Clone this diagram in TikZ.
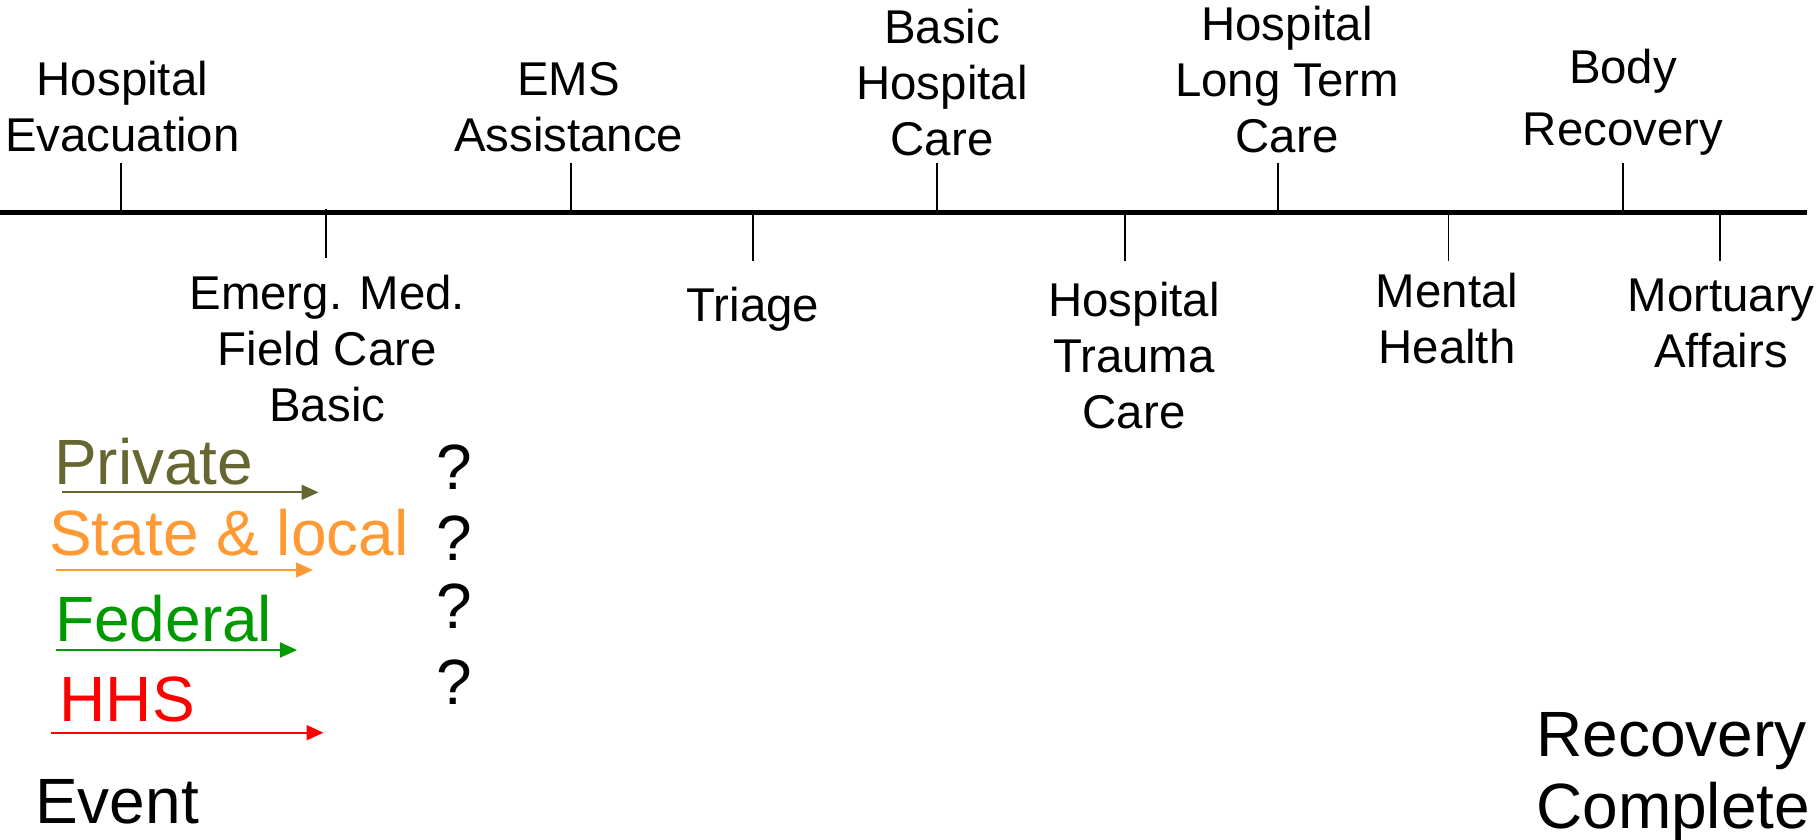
\documentclass[tikz,border=0pt]{standalone}
\usepackage{fontspec}
\setmainfont{Liberation Sans}
\usetikzlibrary{arrows.meta}
\definecolor{privcol}{HTML}{666633}
\definecolor{statecol}{HTML}{FF9933}
\definecolor{fedcol}{HTML}{009900}
\definecolor{hhscol}{HTML}{FF0000}
\begin{document}
\begin{tikzpicture}[x=1pt,y=-1pt,
  lab/.style={font=\fontsize{47.4}{56}\selectfont, align=center, inner sep=0pt, anchor=base},
  big/.style={font=\fontsize{64}{72.3}\selectfont, inner sep=0pt, anchor=base west, align=left},
  tickline/.style={line width=1.6pt},
  axisline/.style={line width=4.5pt},
  legarrow/.style={line width=2pt, -{Triangle[length=17pt,width=15pt]}}]
\useasboundingbox (0,0) rectangle (1820,840);

% axis
\coordinate (a0) at (0,212.5);
\coordinate (a1) at (1807,212.5);
\draw[axisline] (a0) -- (a1);

% ticks above
\foreach \n/\x in {he/120.7, ems/571, bhc/937, ltc/1278, br/1622.7}{
  \coordinate (\n top) at (\x,163);
  \coordinate (\n ax) at (\x,212.5);
  \draw[tickline] (\n top) -- (\n ax);
}
% ticks below
\coordinate (emtop) at (326,209);
\coordinate (embot) at (326,258);
\draw[tickline] (emtop) -- (embot);
\foreach \n/\x in {tr/753, htc/1125, mh/1448.6, ma/1720}{
  \coordinate (\n ax) at (\x,212.5);
  \coordinate (\n bot) at (\x,261);
  \draw[tickline] (\n ax) -- (\n bot);
}

% labels above
\node[lab] (heL) at (122.4,151.7) {Hospital\\Evacuation};
\node[lab] (emsL) at (568.7,152) {EMS\\Assistance};
\node[lab] (bhcL) at (942,156) {Basic\\Hospital\\Care};
\node[lab] (ltcL) at (1287,153) {Hospital\\Long Term\\Care};
\node[lab, font=\fontsize{47.4}{62.7}\selectfont] (brL) at (1623,146) {Body\\Recovery};

% labels below
\node[lab] (emL) at (327.3,421.7) {Emerg. Med.\\Field Care\\Basic};
\node[lab] (trL) at (753,321) {Triage};
\node[lab] (htcL) at (1134,428) {Hospital\\Trauma\\Care};
\node[lab] (mhL) at (1447,363) {Mental\\Health};
\node[lab] (maL) at (1721,367.5) {Mortuary\\Affairs};

% legend
\node[big, text=privcol] (priv) at (54,484.3) {Private};
\coordinate (p0) at (61.7,492.3);
\coordinate (p1) at (318.5,492.3);
\draw[legarrow, privcol] (p0) -- (p1);

\node[big, text=statecol] (state) at (49,555) {State \& local};
\coordinate (s0) at (56,570);
\coordinate (s1) at (313,570);
\draw[legarrow, statecol] (s0) -- (s1);

\node[big, text=fedcol] (fed) at (55,641.7) {Federal};
\coordinate (f0) at (56,650);
\coordinate (f1) at (297,650);
\draw[legarrow, fedcol] (f0) -- (f1);

\node[big, text=hhscol] (hhs) at (59.5,721.7) {HHS};
\coordinate (h0) at (50.7,732.7);
\coordinate (h1) at (323.5,732.7);
\draw[legarrow, hhscol] (h0) -- (h1);

\node[big, anchor=base] (q1) at (454.5,489) {?};
\node[big, anchor=base] (q2) at (454.5,560.7) {?};
\node[big, anchor=base] (q3) at (454.5,628) {?};
\node[big, anchor=base] (q4) at (454.5,704) {?};

\node[big] (event) at (35,823.3) {Event};
\node[big] (recov) at (1536,828.3) {Recovery\\Complete};
\end{tikzpicture}
\end{document}
